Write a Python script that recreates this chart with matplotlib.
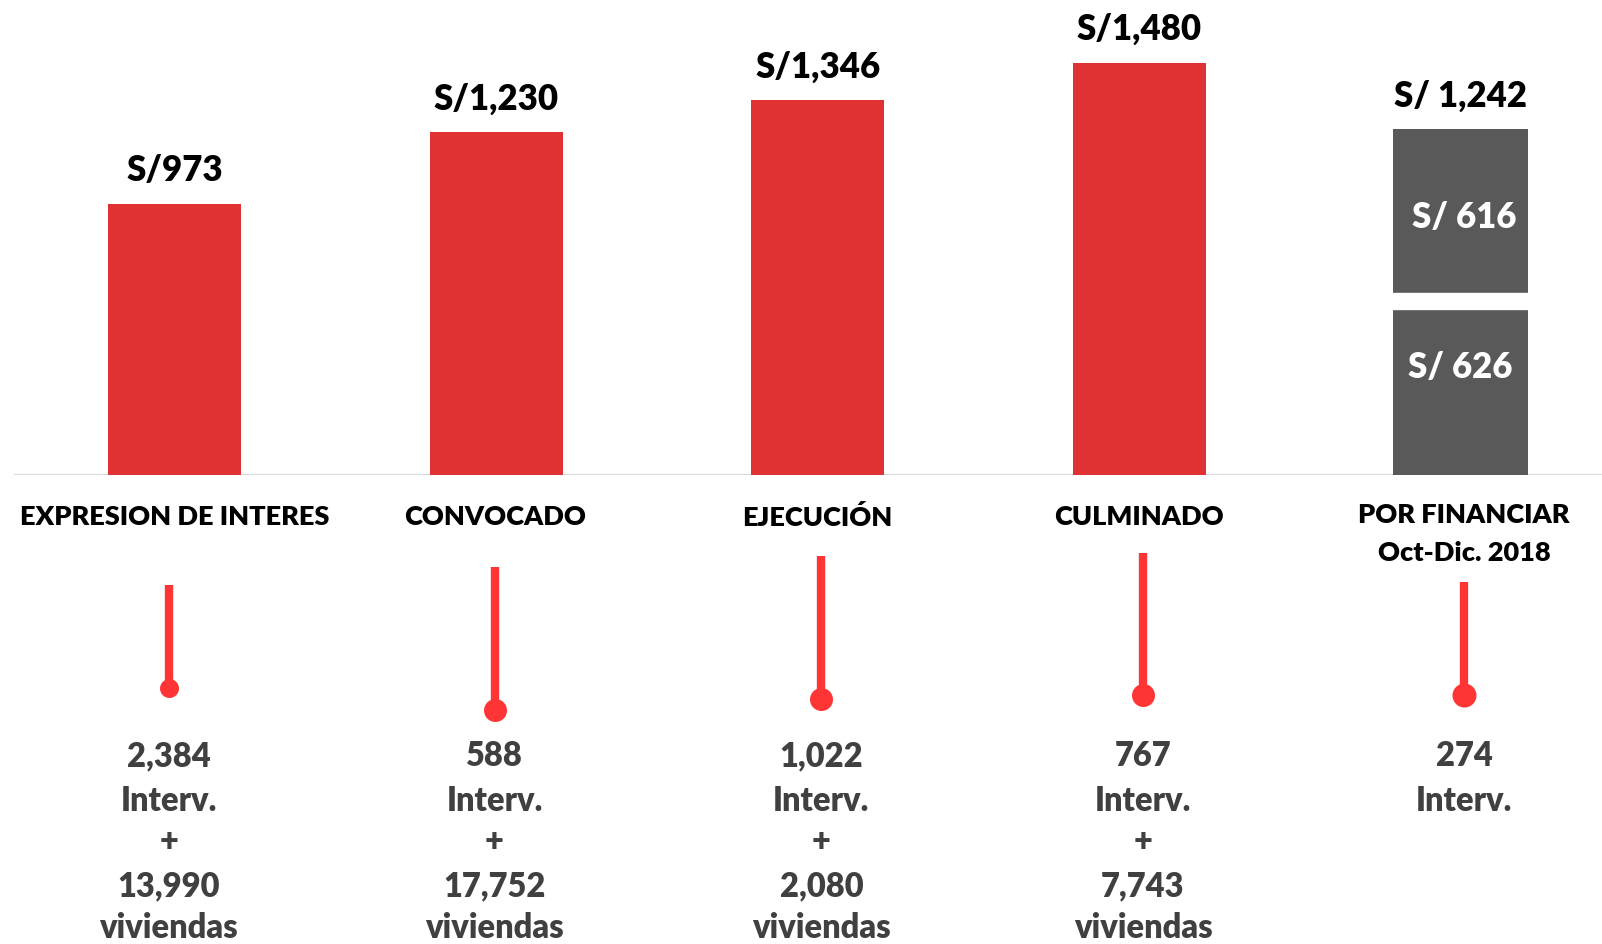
import matplotlib
matplotlib.use('Agg')
import matplotlib.pyplot as plt

# data
categories = ['EXPRESION DE INTERES', 'CONVOCADO', 'EJECUCIÓN', 'CULMINADO', 'POR FINANCIAR\nOct-Dic. 2018']
amounts = [973, 1230, 1346, 1480]
amount_labels = ['S/973', 'S/1,230', 'S/1,346', 'S/1,480']
pending_parts = [626, 616]
pending_part_labels = ['S/ 626', 'S/ 616']
pending_total_label = 'S/ 1,242'
interv = ['2,384', '588', '1,022', '767', '274']
viviendas = ['13,990', '17,752', '2,080', '7,743', None]

RED = '#e03232'
PIN = '#ff3535'
GRAY = '#595959'
TXT = '#404040'
FONT = 'Lato'
WT = 'heavy'

plt.rcParams['font.family'] = [FONT, 'DejaVu Sans']

W, H = 1602, 944
fig = plt.figure(figsize=(W / 100, H / 100), dpi=100)

# bar axes: baseline at 475 px from top
base_px = 475
px_per_unit = 0.2785
ax = fig.add_axes([14 / W, (H - base_px) / H, 1 - 14 / W, base_px / H])
ax.set_xlim(-0.5, 4.44)
ax.set_ylim(0, base_px / px_per_unit)
ax.axis('off')

bw = 0.414
xs = list(range(len(amounts)))
ax.bar(xs, amounts, width=bw, color=RED, zorder=2)
ax.axhline(0, color='#d9d9d9', lw=1.5, zorder=1)
for x, v, lab in zip(xs, amounts, amount_labels):
    ax.annotate(lab, (x, v), xytext=(0, 24), textcoords='offset points',
                ha='center', va='center', fontsize=25, color='black', fontweight=WT)

# pending stacked bar
xp = 4.0
ax.bar(xp, pending_parts[0], width=0.42, color=GRAY, zorder=2)
ax.bar(xp, pending_parts[1], bottom=pending_parts[0], width=0.42, color=GRAY, zorder=2)
ax.plot([xp - 0.22, xp + 0.22], [pending_parts[0]] * 2, color='white', lw=12.5, zorder=3,
        solid_capstyle='butt')
ax.annotate(pending_total_label, (xp, sum(pending_parts)), xytext=(0, 24), textcoords='offset points',
            ha='center', va='center', fontsize=25, color='black', fontweight=WT)
ax.text(xp, pending_parts[0] * 0.614, pending_part_labels[0], ha='center', va='center',
        fontsize=25, color='white', fontweight=WT, zorder=4)
ax.text(xp + 0.01, pending_parts[0] + pending_parts[1] * 0.484, pending_part_labels[1], ha='center',
        va='center', fontsize=25, color='white', fontweight=WT, zorder=4)

# lower infographic, pixel coordinates
deco = fig.add_axes([0, 0, 1, 1])
deco.set_xlim(0, W)
deco.set_ylim(H, 0)
deco.axis('off')

cat_x = [174.7, 495.5, 817.4, 1139, 1464]
pin_x = [168.6, 494.5, 821.4, 1143, 1464]
pin_top = [585, 567, 556, 553, 582]
pin_bot = [688, 710, 699, 695, 695]
pin_d = [19, 23, 23, 23, 24]

for i, cat in enumerate(categories):
    lines = cat.split('\n')
    for j, ln in enumerate(lines):
        yy = 517 if len(lines) == 1 else 515 + j * 38
        deco.text(cat_x[i], yy, ln, ha='center', va='center', fontsize=19.5, color='black',
                  fontweight=WT)
    deco.plot([pin_x[i], pin_x[i]], [pin_top[i], pin_bot[i]], color=PIN, lw=6, solid_capstyle='butt')
    deco.plot(pin_x[i], pin_bot[i], 'o', color=PIN, ms=pin_d[i] * 0.72, mec='none')

    rows = [interv[i], 'Interv.']
    if viviendas[i] is not None:
        rows += ['+', viviendas[i], 'viviendas']
    row_y = [756, 801, 842, 886, 928]
    for r, yy in zip(rows, row_y):
        deco.text(pin_x[i], yy, r, ha='center', va='center', fontsize=23.5, color=TXT,
                  fontweight=WT)

fig.savefig('out.png', dpi=100)
